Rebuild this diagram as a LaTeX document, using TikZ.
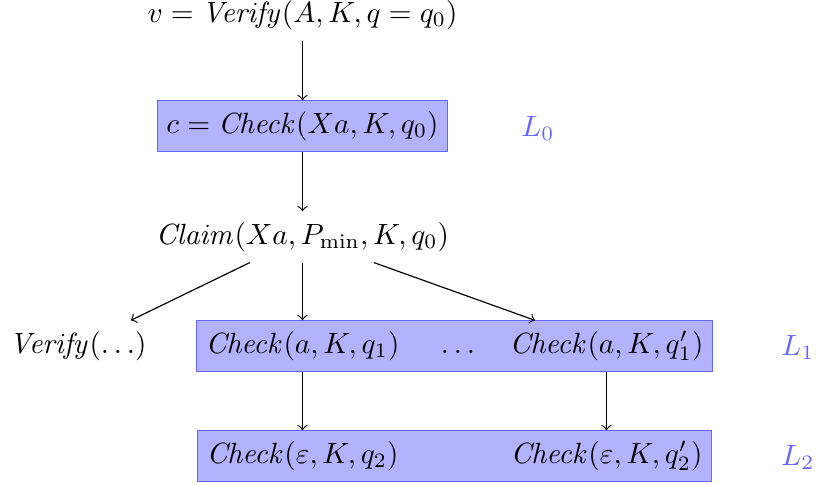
\documentclass[tikz,border=0pt]{standalone}
\usetikzlibrary{fit,backgrounds}
\begin{document}
\begin{tikzpicture}[x=0.3415pt,y=-0.3415pt,
  lbl/.style={inner sep=3.333pt,minimum height=17.1pt,text height=7.5pt,text depth=2.5pt},
  layer/.style={fill=blue!30,draw=blue!60,inner xsep=-0.4pt,inner ysep=0pt},
  lvl/.style={text=blue!60},
  arr/.style={->,line width=0.4pt}]
\useasboundingbox (0,0) rectangle (816,485);
\node[lbl] (ver) at (302.5,15) {$v = \mathit{Verify}(A,K,q=q_0)$};
\node[lbl] (chk0) at (302.5,126) {$c = \mathit{Check}(Xa,K,q_0)$};
\node[lbl] (claim) at (302.5,237) {$\mathit{Claim}(Xa,P_{\min},K,q_0)$};
\node[lbl] (verd) at (78,346) {$\mathit{Verify}(\dots)$};
\node[lbl] (c1) at (302.5,346) {$\mathit{Check}(a,K,q_1)$};
\node[lbl] (dots) at (458,346) {$\dots$};
\node[lbl] (c1p) at (606.5,346) {$\mathit{Check}(a,K,q_1')$};
\node[lbl] (c2) at (302.5,456) {$\mathit{Check}(\varepsilon,K,q_2)$};
\node[lbl] (c2p) at (606.5,456) {$\mathit{Check}(\varepsilon,K,q_2')$};
\node[lbl,lvl] (l0) at (538,129) {$L_0$};
\node[lbl,lvl] (l1) at (798,348) {$L_1$};
\node[lbl,lvl] (l2) at (798,458) {$L_2$};
\begin{scope}[on background layer]
\node[layer,fit=(chk0)] (b0) {};
\node[layer,fit=(c1)(c1p)] (b1) {};
\node[layer,fit=(c2)(c2p)] (b2) {};
\end{scope}
\draw[arr] (ver) -- (chk0);
\draw[arr] (chk0) -- (claim);
\draw[arr] (claim) -- (verd);
\draw[arr] (claim) -- (c1);
\draw[arr] (claim) -- (c1p);
\draw[arr] (c1) -- (c2);
\draw[arr] (c1p) -- (c2p);
\end{tikzpicture}
\end{document}
